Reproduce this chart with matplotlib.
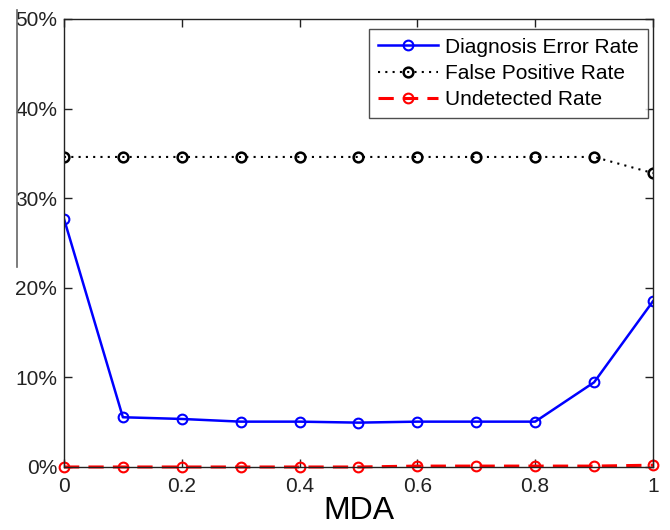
import matplotlib
matplotlib.use("Agg")
import matplotlib.pyplot as plt
from matplotlib.lines import Line2D
from matplotlib.ticker import FuncFormatter

mda = [0.0, 0.1, 0.2, 0.3, 0.4, 0.5, 0.6, 0.7, 0.8, 0.9, 1.0]
diag_err = [27.7, 5.55, 5.36, 5.06, 5.06, 4.95, 5.06, 5.06, 5.06, 9.45, 18.5]
false_pos = [34.6, 34.6, 34.6, 34.6, 34.6, 34.6, 34.6, 34.6, 34.6, 34.6, 32.8]
undetected = [0.0, 0.0, 0.0, 0.0, 0.0, 0.0, 0.1, 0.1, 0.1, 0.1, 0.2]
xticks = [0, 0.2, 0.4, 0.6, 0.8, 1]
yticks = [0, 10, 20, 30, 40, 50]

plt.rcParams['font.family'] = ['Liberation Sans', 'DejaVu Sans']

fig = plt.figure(figsize=(6.7, 5.3), dpi=100)
ax = fig.add_axes([0.0955, 0.1189, 0.9746 - 0.0955, 0.9642 - 0.1189])

ax.plot(mda, diag_err, color='#0000ff', lw=1.8, marker='o', ms=7,
        mfc='none', mec='#0000ff', mew=1.5, label='Diagnosis Error Rate')
ax.plot(mda, false_pos, color='black', lw=1.5, ls=(0, (1, 2.5)), marker='o', ms=7,
        mfc='none', mec='black', mew=1.8, label='False Positive Rate')
ax.plot(mda, undetected, color='#ff0000', lw=2.2, ls=(0, (5, 3)), marker='o', ms=7,
        mfc='none', mec='#ff0000', mew=1.5, label='Undetected Rate', clip_on=False)

ax.set_xlim(0, 1)
ax.set_ylim(0, 50)
ax.set_xticks(xticks)
ax.set_yticks(yticks)
ax.xaxis.set_major_formatter(FuncFormatter(lambda v, p: ('%g' % v)))
ax.yaxis.set_major_formatter(FuncFormatter(lambda v, p: '%d%%' % v))
ax.tick_params(direction='in', length=6, width=1, top=True, right=True,
               labelsize=15, colors='#222222')
ax.tick_params(axis='x', pad=7)
ax.tick_params(axis='y', pad=5)
for s in ax.spines.values():
    s.set_color('#222222')
    s.set_linewidth(1)

ax.set_xlabel('MDA', fontsize=23, labelpad=0)

leg = ax.legend(loc='upper right', bbox_to_anchor=(0.9915, 0.978), fontsize=15,
                frameon=True, fancybox=False, edgecolor='#222222',
                handlelength=2.9, handletextpad=0.35, borderpad=0.42,
                labelspacing=0.35, borderaxespad=0)
leg.get_frame().set_linewidth(1)

fig.add_artist(Line2D([17 / 670, 17 / 670], [1 - 10 / 530, 1 - 267 / 530],
                      transform=fig.transFigure, color='#666666', lw=1.2))

fig.savefig('out.png', dpi=100)
